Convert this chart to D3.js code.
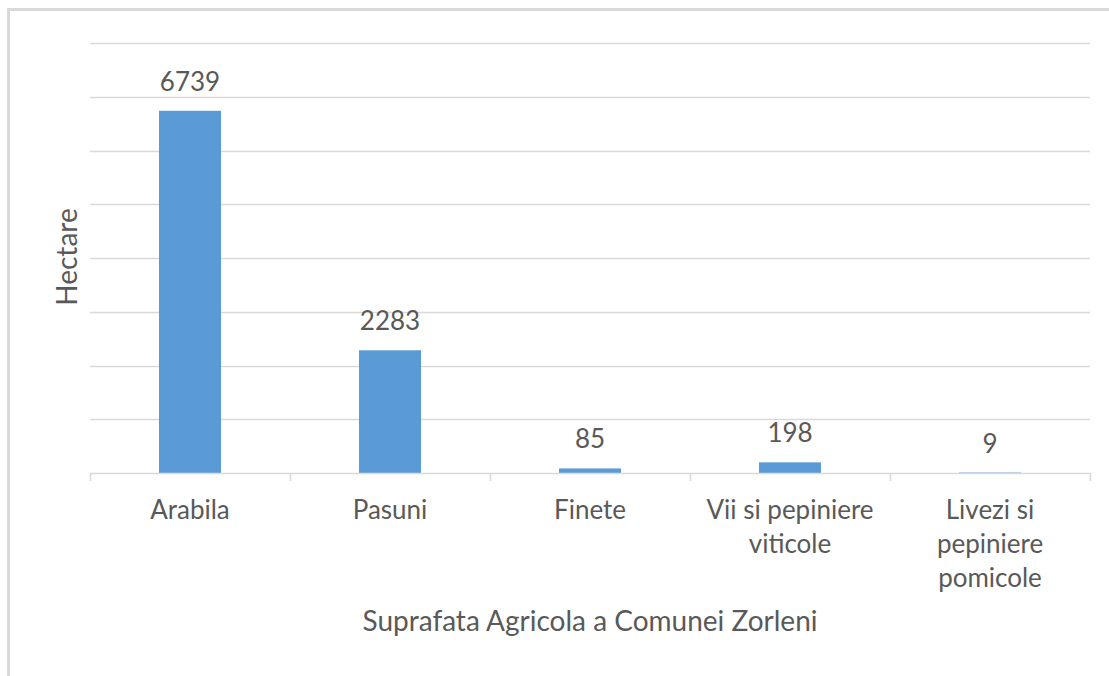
<!DOCTYPE html>
<html><head><meta charset="utf-8">
<script src="https://cdn.jsdelivr.net/npm/d3@7"></script>
<style>body{margin:0;background:#fff}svg{display:block}text{font-family:Lato,"Open Sans",sans-serif;fill:#595959}</style>
</head><body>
<svg id="c" width="1109" height="676"></svg>
<script>
const categories = ["Arabila","Pasuni","Finete","Vii si pepiniere viticole","Livezi si pepiniere pomicole"];
const tickLabels = [["Arabila"],["Pasuni"],["Finete"],["Vii si pepiniere","viticole"],["Livezi si","pepiniere","pomicole"]];
const values = [6739,2283,85,198,9];
const yTicks = [0,1000,2000,3000,4000,5000,6000,7000,8000];
const xTitle = "Suprafata Agricola a Comunei Zorleni";
const yTitle = "Hectare";

const svg = d3.select("#c");
svg.append("rect").attr("x",8.5).attr("y",9.5).attr("width",1120).attr("height",700)
  .attr("fill","none").attr("stroke","#d9d9d9").attr("stroke-width",3);

const m = {l:90,r:1090,t:43,b:473};
const x = d3.scaleBand().domain(categories).range([m.l,m.r]).paddingInner(0.69).paddingOuter(0.345);
const y = d3.scaleLinear().domain([0,8000]).range([m.b,m.t]);

svg.append("g").selectAll("line").data(yTicks.slice(1)).join("line")
  .attr("x1",m.l).attr("x2",m.r).attr("y1",d=>Math.round(y(d))+0.5).attr("y2",d=>Math.round(y(d))+0.5)
  .attr("stroke","#d9d9d9").attr("stroke-width",1.5);

svg.append("g").selectAll("rect").data(values).join("rect")
  .attr("x",(d,i)=>x(categories[i])).attr("width",x.bandwidth())
  .attr("y",d=>y(d)).attr("height",d=>y(0)-y(d)).attr("fill","#5b9bd5");

// axis line and ticks
const xb = d3.scaleLinear().domain([0,categories.length]).range([m.l,m.r]);
svg.append("line").attr("x1",m.l).attr("x2",m.r).attr("y1",m.b+0.5).attr("y2",m.b+0.5).attr("stroke","#d9d9d9").attr("stroke-width",1.5);
svg.append("g").selectAll("line").data(d3.range(categories.length+1)).join("line")
  .attr("x1",d=>Math.round(xb(d))+0.5).attr("x2",d=>Math.round(xb(d))+0.5).attr("y1",m.b).attr("y2",m.b+8)
  .attr("stroke","#d9d9d9").attr("stroke-width",1.5);

svg.append("g").selectAll("text").data(values).join("text")
  .attr("x",(d,i)=>x(categories[i])+x.bandwidth()/2).attr("y",d=>y(d)-20)
  .attr("text-anchor","middle").attr("font-size",26).text(d=>d);

const tl = svg.append("g").selectAll("text").data(tickLabels).join("text")
  .attr("text-anchor","middle").attr("font-size",26)
  .attr("x",(d,i)=>x(categories[i])+x.bandwidth()/2);
tl.selectAll("tspan").data(d=>d).join("tspan")
  .attr("x",function(){return this.parentNode.getAttribute("x");})
  .attr("y",(d,j)=>519+j*34).text(d=>d);

svg.append("text").attr("x",(m.l+m.r)/2).attr("y",631).attr("text-anchor","middle").attr("font-size",28).text(xTitle);
svg.append("text").attr("transform","translate(77,257) rotate(-90)").attr("text-anchor","middle").attr("font-size",28).text(yTitle);
</script>
</body></html>
